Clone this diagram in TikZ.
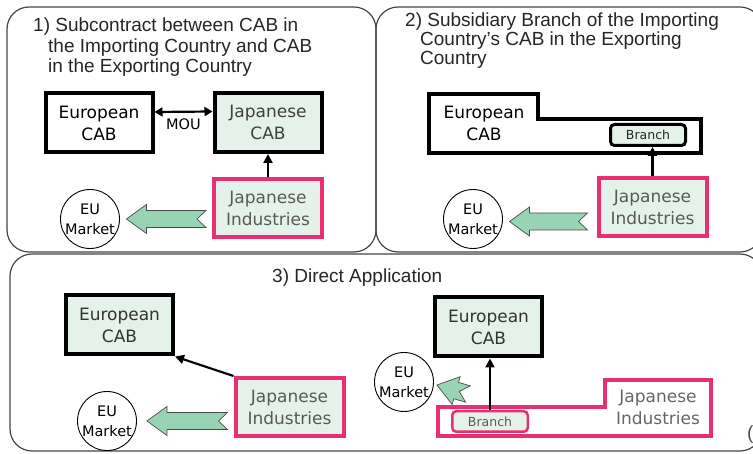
\documentclass[tikz,border=0pt]{standalone}
\usepackage{fontspec}
\setmainfont{Liberation Sans}
\newfontfamily\boxfont{DejaVu Sans}
\usetikzlibrary{arrows.meta,calc}
\definecolor{pinkline}{RGB}{234,46,114}
\definecolor{dotgreen}{RGB}{228,242,233}
\definecolor{mint}{RGB}{152,212,180}
\definecolor{framegray}{RGB}{70,70,70}
\newcommand\bkarrow[2]{%
  \draw[blockarrow] let \p1=#1, \p2=#2,
      \n1={atan2(\y2-\y1,\x2-\x1)}, \n2={veclen(\x2-\x1,\y2-\y1)} in
    [shift={(\p1)}, rotate=\n1]
    (0pt,8.5pt) -- (9pt,0pt) -- (0pt,-8.5pt) -- ({(\n2-20)*1pt},-8.5pt)
    -- ({(\n2-20)*1pt},-14.5pt) -- ({(\n2)*1pt},0pt) -- ({(\n2-20)*1pt},14.5pt)
    -- ({(\n2-20)*1pt},8.5pt) -- cycle;}
\begin{document}
\begin{tikzpicture}[x=1pt,y=-1pt,
  panel/.style={draw=framegray, line width=1.2pt, rounded corners=22pt},
  title/.style={anchor=base west, inner sep=0pt, font=\fontsize{19}{20}\selectfont, text=black!85},
  boxtext/.style={align=center, inner sep=0pt, font=\boxfont\fontsize{17}{22}\selectfont},
  cab/.style={boxtext, draw=black, line width=4pt, minimum width=107pt, minimum height=59pt},
  pinkbox/.style={boxtext, draw=pinkline, line width=4pt, fill=dotgreen, text=black!65,
     minimum width=108pt, minimum height=58pt},
  market/.style={circle, draw=black, line width=0.9pt, minimum size=59pt, inner sep=0pt,
     align=center, font=\boxfont\fontsize{14.5}{20}\selectfont},
  branchbox/.style={rounded corners=4pt, fill=dotgreen, minimum width=75pt, minimum height=21pt,
     inner sep=0pt, font=\boxfont\fontsize{12.5}{14}\selectfont},
  arr/.style={line width=2.2pt, -{Triangle[length=9pt,width=9pt]}},
  dbl/.style={line width=2.2pt, {Triangle[length=8pt,width=9pt]}-{Triangle[length=8pt,width=9pt]}},
  blockarrow/.style={fill=mint, draw=black!70, line width=0.7pt, line join=miter}
]
\useasboundingbox (0,0) rectangle (753,454);
\clip (0,0) rectangle (753,454);
\fill[white] (0,0) rectangle (753,454);

% panels
\draw[panel] (7,7) rectangle (376,252);
\draw[panel] (376,7) rectangle (762,252);
\draw[panel] (10,254) rectangle (762,451);

% titles
\node[title] (t1a) at (33,32) {1) Subcontract between CAB in};
\node[title] (t1b) at (48,53) {the Importing Country and CAB};
\node[title] (t1c) at (48,73) {in the Exporting Country};
\node[title] (t2a) at (405,27) {2) Subsidiary Branch of the Importing};
\node[title] (t2b) at (420,46) {Country’s CAB in the Exporting};
\node[title] (t2c) at (420,65) {Country};
\node[title] (t3) at (272,283) {3) Direct Application};

% ---- panel 1
\node[cab] (ecab1) at (99,123) {European\\CAB};
\node[cab, fill=dotgreen, text=black!75] (jcab1) at (268,122.5) {Japanese\\CAB};
\node[pinkbox] (ji1) at (268,208) {Japanese\\Industries};
\node[market] (eu1) at (90,219) {EU\\Market};
\draw[dbl] ([yshift=11pt]ecab1.east) -- node[below=5.5pt, inner sep=0pt,
   font=\boxfont\fontsize{14.5}{16}\selectfont] (mou) {MOU} ([yshift=11pt]jcab1.west);
\draw[arr] (ji1.north) -- (jcab1.south);
\bkarrow{($(ji1.west|-eu1.center)+(-6pt,0pt)$)}{($(eu1.east)+(6.5pt,0pt)$)}

% ---- panel 2
\draw[line width=4pt, line join=miter] (429,94) -- (538,94) -- (538,119) -- (701,119)
   -- (701,153) -- (429,153) -- cycle;
\node[boxtext] (ecab2) at (484,123) {European\\CAB};
\node[branchbox, draw=black, line width=3pt, text=black!85] (br2) at (648,135) {Branch};
\node[pinkbox] (ji2) at (652.5,207) {Japanese\\Industries};
\node[market] (eu2) at (473,219) {EU\\Market};
\draw[arr] (ji2.north) -- (ji2.north |- br2.south);
\bkarrow{($(ji2.west|-eu2.center)+(-9pt,-2.5pt)$)}{($(eu2.east)+(6.5pt,-2.5pt)$)}

% ---- panel 3, left
\node[cab, fill=dotgreen, text=black!80] (ecab3) at (119.5,325) {European\\CAB};
\node[pinkbox] (ji3) at (289.5,407) {Japanese\\Industries};
\node[market] (eu3) at (107,421) {EU\\Market};
\draw[arr] (ji3.north west) -- (ecab3.south east);
\bkarrow{($(ji3.west|-eu3.center)+(-6pt,0pt)$)}{($(eu3.east)+(10pt,0pt)$)}

% ---- panel 3, right
\node[cab, fill=dotgreen, text=black!80] (ecab4) at (488.5,327) {European\\CAB};
\draw[pinkline, line width=4pt, line join=miter] (438,407) -- (605,407) -- (605,380)
   -- (711,380) -- (711,436) -- (438,436) -- cycle;
\node[boxtext, text=black!60] (ji4) at (658,407) {Japanese\\Industries};
\node[branchbox, draw=pinkline, line width=2.5pt, text=black!65, minimum height=20.5pt,
   minimum width=75.5pt] (br4) at (490,421.5) {Branch};
\node[market] (eu4) at (404,382) {EU\\Market};
\draw[arr] (br4.north) -- (br4.north |- ecab4.south);
\bkarrow{($(eu4.east)+(34pt,-12pt)$)}{($(eu4.east)+(3pt,-3pt)$)}

\node[anchor=base west, inner sep=0pt, font=\fontsize{19}{20}\selectfont, text=black!70]
   (cut) at (747,440) {(};
\end{tikzpicture}
\end{document}
